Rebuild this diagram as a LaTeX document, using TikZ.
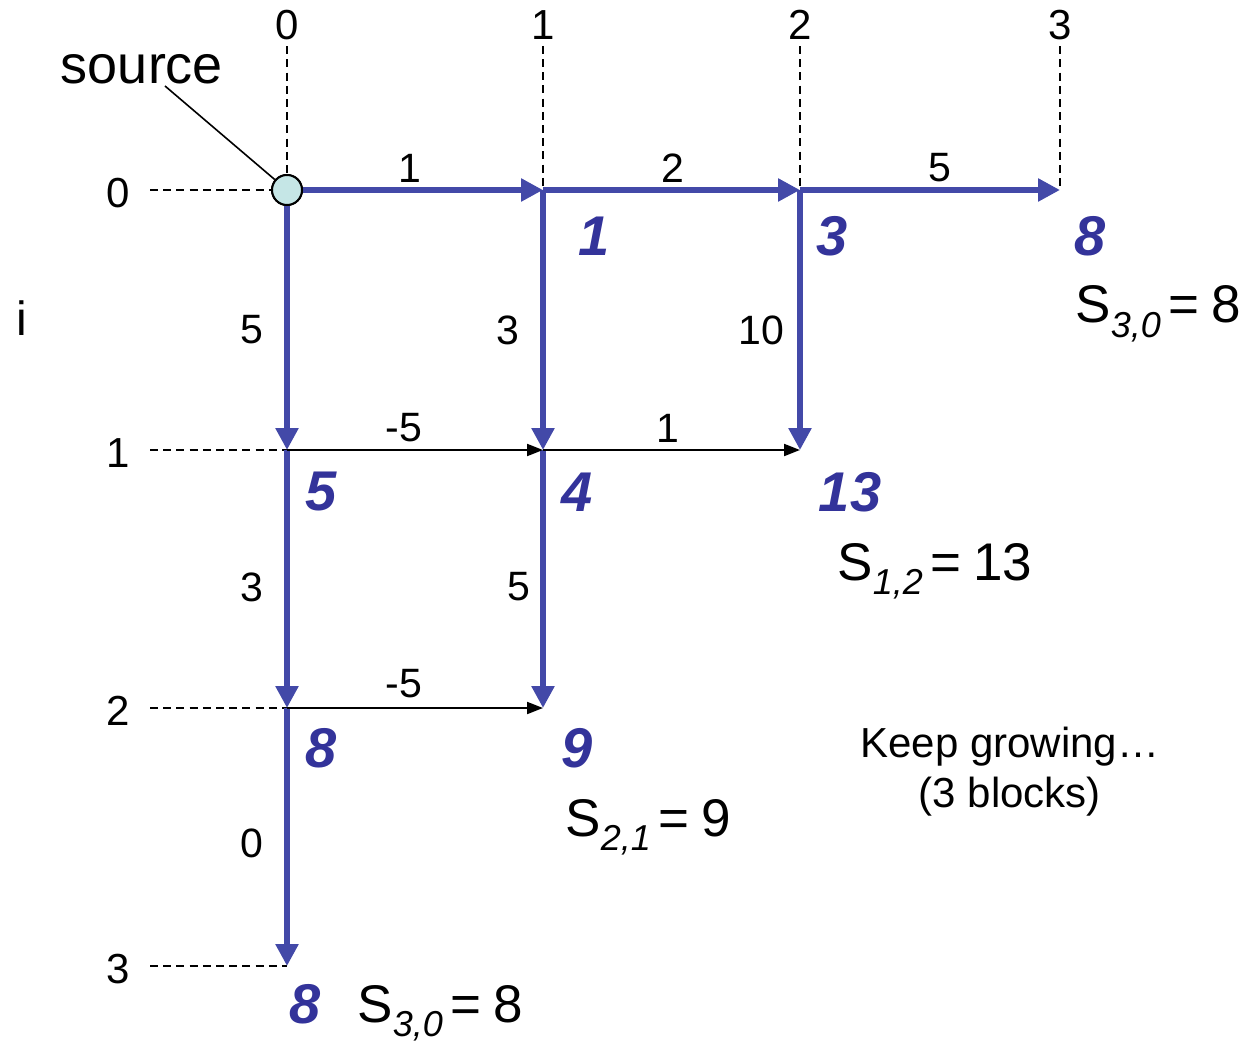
\documentclass[tikz,border=0pt]{standalone}
\usepackage{fontspec}
\setmainfont{Liberation Sans}
\usetikzlibrary{arrows.meta}
\definecolor{edgeblue}{HTML}{4349A8}
\definecolor{valblue}{HTML}{33339A}
\definecolor{srcfill}{HTML}{C5E6E6}
\newcommand\Slbl[2]{S\raisebox{-0.28em}{\fontsize{18}{20}\selectfont\itshape #1}\hspace{0.15em}=\hspace{0.22em}#2}
\begin{document}
\begin{tikzpicture}[x=0.5pt,y=-0.5pt,
  blueedge/.style={draw=edgeblue, line width=3pt, -{Triangle[length=11pt,width=11pt]}},
  thinedge/.style={draw=black, line width=1pt, -{Triangle[length=8pt,width=6pt]}},
  guide/.style={draw=black, line width=1pt, dash pattern=on 4pt off 2.6pt},
  wt/.style={font=\fontsize{20.5}{24}\selectfont, inner sep=0pt},
  ax/.style={font=\fontsize{21}{25}\selectfont, inner sep=0pt},
  val/.style={font=\fontsize{28}{32}\selectfont\bfseries\itshape, text=valblue, inner sep=0pt},
  slab/.style={font=\fontsize{26.5}{30}\selectfont, inner sep=0pt, anchor=base west},
]
\fill[white] (0,0) rectangle (1245,1042);
\useasboundingbox (0,0) rectangle (1245,1042);

% grid points
\foreach \i/\y in {0/190,1/450,2/708,3/966}{
  \foreach \j/\x in {0/287,1/543,2/800,3/1060}{
    \coordinate (p\i\j) at (\x,\y);
  }
}

% axis labels
\node[ax] (t0) at (287,25) {0};
\node[ax] (t1) at (543,25) {1};
\node[ax] (t2) at (800,25) {2};
\node[ax] (t3) at (1060,25) {3};
\node[ax] (l0) at (118,193) {0};
\node[ax] (l1) at (118,453) {1};
\node[ax] (l2) at (118,711) {2};
\node[ax] (l3) at (118,969) {3};
\node[font=\fontsize{24}{28}\selectfont, inner sep=0pt] (ilab) at (22,318) {i};

% source node
\node[circle, draw=black, line width=1pt, fill=srcfill, minimum size=15pt, inner sep=0pt] (src) at (p00) {};

% guides
\draw[guide] ([yshift=-3pt]t0.south) -- (src.north);
\draw[guide] ([yshift=-3pt]t1.south) -- (p01);
\draw[guide] ([yshift=-3pt]t2.south) -- (p02);
\draw[guide] ([yshift=-3pt]t3.south) -- (p03);
\draw[guide] ([xshift=10pt]l0.east |- p00) -- (src.west);
\draw[guide] ([xshift=10pt]l1.east |- p10) -- (p10);
\draw[guide] ([xshift=10pt]l2.east |- p20) -- (p20);
\draw[guide] ([xshift=10pt]l3.east |- p30) -- (p30);

% blue edges
\draw[blueedge] (src) -- (p01);
\draw[blueedge] (p01) -- (p02);
\draw[blueedge] (p02) -- (p03);
\draw[blueedge] (src) -- (p10);
\draw[blueedge] (p10) -- (p20);
\draw[blueedge] (p20) -- (p30);
\draw[blueedge] (p01) -- (p11);
\draw[blueedge] (p11) -- (p21);
\draw[blueedge] (p02) -- (p12);

% thin black edges
\draw[thinedge] (p10) -- (p11);
\draw[thinedge] (p11) -- (p12);
\draw[thinedge] (p20) -- (p21);

% source on top
\node[circle, draw=black, line width=1pt, fill=srcfill, minimum size=15pt, inner sep=0pt] (src2) at (p00) {};

% source label
\node[font=\fontsize{27}{31}\selectfont, inner sep=0pt] (srclab) at (142,69) {source};
\coordinate (srcpt) at (165,86);
\draw[line width=0.8pt] (srcpt) -- (src2);

% weights
\node[wt] (w1) at (410,168) {1};
\node[wt] (w2) at (673,168) {2};
\node[wt] (w3) at (940,168) {5};
\node[wt] (w4) at (252,330) {5};
\node[wt] (w5) at (252,587) {3};
\node[wt] (w6) at (252,843) {0};
\node[wt] (w7) at (508,330) {3};
\node[wt] (w8) at (519,587) {5};
\node[wt] (w9) at (761,330) {10};
\node[wt] (w10) at (404,428) {-5};
\node[wt] (w11) at (668,428) {1};
\node[wt] (w12) at (404,684) {-5};

% values
\node[val] (v01) at (594,236) {1};
\node[val] (v02) at (832,236) {3};
\node[val] (v03) at (1090,236) {8};
\node[val] (v10) at (321,492) {5};
\node[val] (v11) at (577,492) {4};
\node[val] (v12) at (850,492) {13};
\node[val] (v20) at (321,748) {8};
\node[val] (v21) at (577,748) {9};
\node[val] (v30) at (305,1004) {8};

% S labels
\node[slab] (s1) at (1075,323) {\Slbl{3,0}{8}};
\node[slab] (s2) at (837,580) {\Slbl{1,2}{13}};
\node[slab] (s3) at (565,836) {\Slbl{2,1}{9}};
\node[slab] (s4) at (357,1022) {\Slbl{3,0}{8}};

% note
\node[font=\fontsize{21}{25}\selectfont, align=center, inner sep=0pt] (note) at (1010,772) {Keep growing…\\(3 blocks)};
\end{tikzpicture}
\end{document}
